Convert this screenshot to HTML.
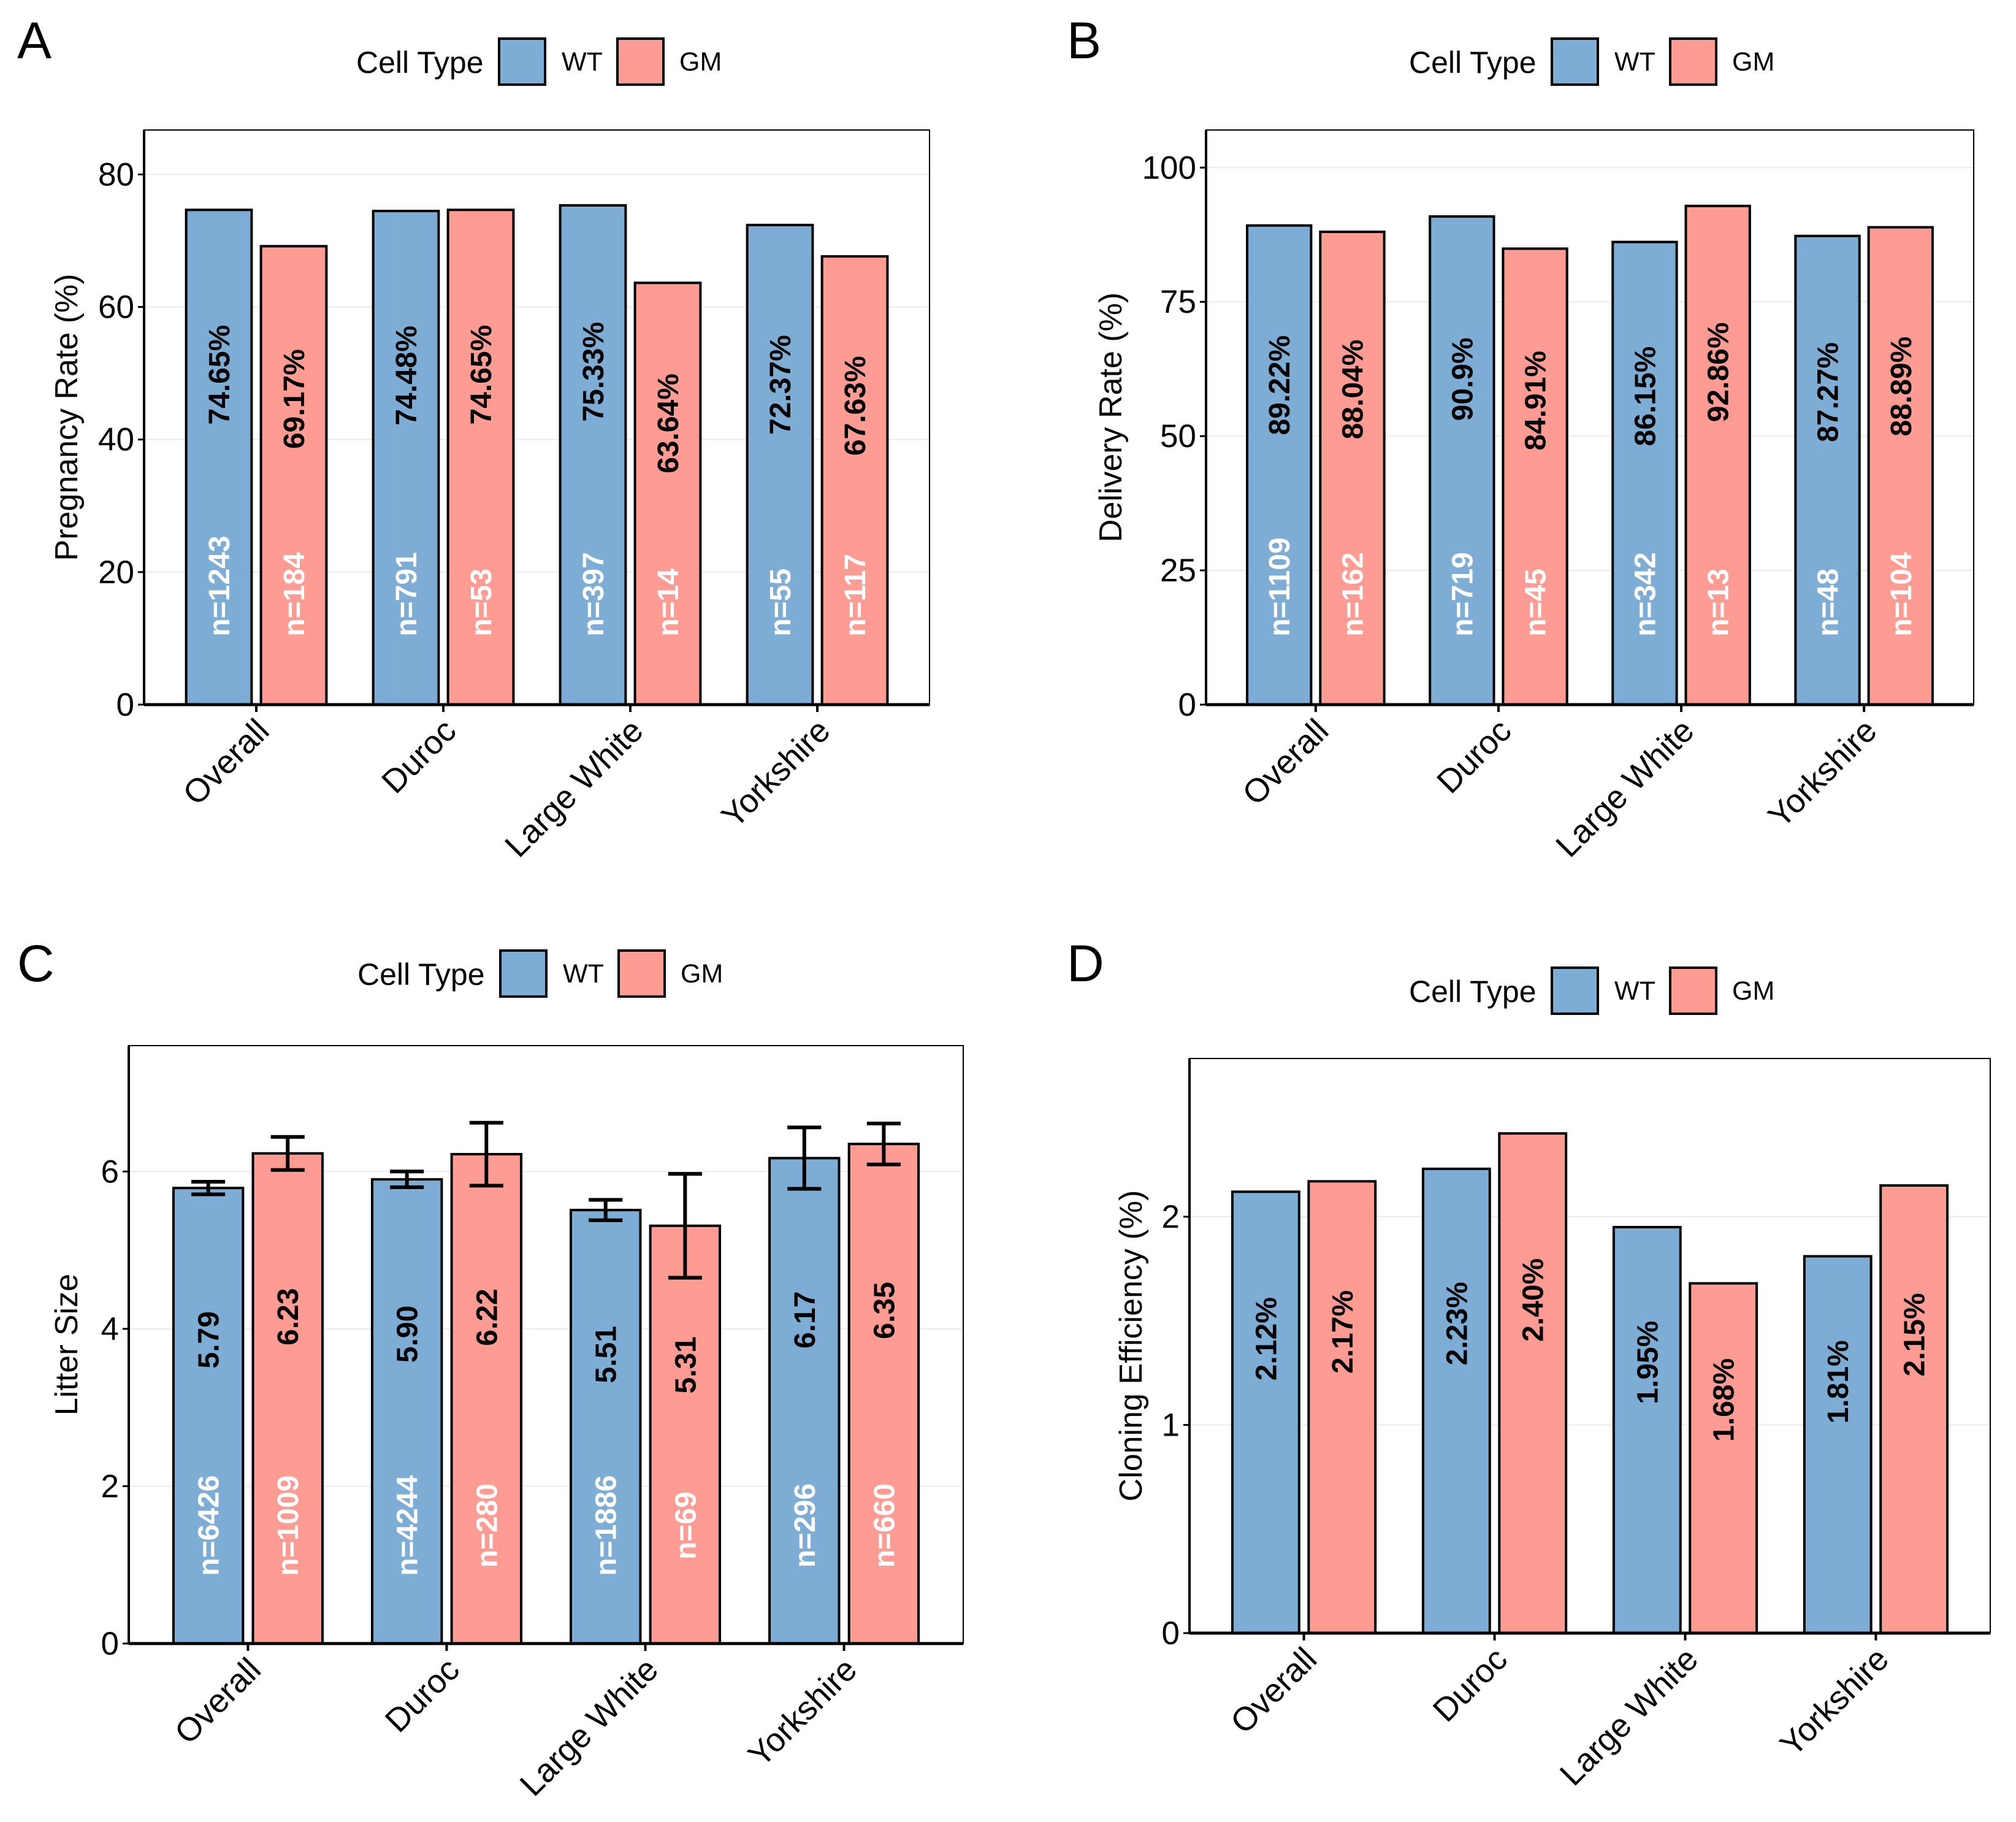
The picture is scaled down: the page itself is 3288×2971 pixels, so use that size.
<!DOCTYPE html>
<html><head><meta charset="utf-8"><style>
html,body{margin:0;padding:0;background:#fff;}
svg{display:block;font-family:"Liberation Sans",Arial,sans-serif;}
</style></head><body>
<svg id="fig" width="3288" height="2971" viewBox="0 0 3288 2971" xmlns="http://www.w3.org/2000/svg"></svg>
<script>
const categories = ["Overall","Duroc","Large White","Yorkshire"];
const pregWT = [74.65,74.48,75.33,72.37];
const pregGM = [69.17,74.65,63.64,67.63];
const pregNWT = [1243,791,397,55];
const pregNGM = [184,53,14,117];
const pregTicks = [0,20,40,60,80];
const delWT = [89.22,90.9,86.15,87.27];
const delGM = [88.04,84.91,92.86,88.89];
const delNWT = [1109,719,342,48];
const delNGM = [162,45,13,104];
const delTicks = [0,25,50,75,100];
const litWT = [5.79,5.90,5.51,6.17];
const litGM = [6.23,6.22,5.31,6.35];
const litErrWT = [0.08,0.10,0.13,0.39];
const litErrGM = [0.21,0.40,0.66,0.26];
const litNWT = [6426,4244,1886,296];
const litNGM = [1009,280,69,660];
const litTicks = [0,2,4,6];
const cloWT = [2.12,2.23,1.95,1.81];
const cloGM = [2.17,2.40,1.68,2.15];
const cloTicks = [0,1,2];

const NS="http://www.w3.org/2000/svg";
const svg=document.getElementById('fig');
const WTC="#7dadd5", GMC="#fe9b93";
function mk(tag,attrs,parent,text){const e=document.createElementNS(NS,tag);for(const k in attrs)e.setAttribute(k,attrs[k]);if(text!==undefined)e.textContent=text;(parent||svg).appendChild(e);return e;}

function panel(o){
  const g=mk('g',{});
  
  
  const x=v=>o.L+(v-0.4)*(o.R-o.L)/4.2;
  const y=v=>o.B-v*(o.B-o.T)/o.ymax;
  const lt=mk('text',{x:o.lx,y:o.ly,'font-size':84,fill:'#000'},g,o.letter);
  
  
  const lg=mk('g',{},g);
  
  
  const lt2=mk('text',{x:o.legX,y:o.legY+35,'font-size':50,fill:'#000'},lg,'Cell Type');
  
  
  const kw=mk('rect',{x:o.legX+233,y:o.legY-21,width:75,height:75,fill:WTC,stroke:'#000','stroke-width':4},lg);
  
  
  const tw=mk('text',{x:o.legX+335,y:o.legY+31,'font-size':43,fill:'#000'},lg,'WT');
  
  
  const kg=mk('rect',{x:o.legX+426,y:o.legY-21,width:75,height:75,fill:GMC,stroke:'#000','stroke-width':4},lg);
  
  
  const tg=mk('text',{x:o.legX+527,y:o.legY+31,'font-size':43,fill:'#000'},lg,'GM');
  
  
  o.ticks.forEach(t=>{
    const gl=mk('line',{x1:o.L,x2:o.R,y1:y(t),y2:y(t),stroke:'#ebebeb','stroke-width':2},g);
    
    
    mk('line',{x1:o.L-10,x2:o.L,y1:y(t),y2:y(t),stroke:'#000','stroke-width':3},g);
    const tl=mk('text',{x:o.L-16,y:y(t)+18,'font-size':53,'text-anchor':'end',fill:'#000'},g,String(t));
    
    
  });
  const fr=mk('rect',{x:o.L,y:o.T,width:o.R-o.L,height:o.B-o.T,fill:'none',stroke:'#000','stroke-width':2},g);
  
  
  const bw=0.35;
  categories.forEach((c,i)=>{
    [[o.wt,WTC,-0.2,o.ewt,o.nwt,'wt'],[o.gm,GMC,0.2,o.egm,o.ngm,'gm']].forEach(s=>{
      const v=s[0][i], cx=x(i+1+s[2]);
      const r=mk('rect',{x:cx-bw/2*(o.R-o.L)/4.2,y:y(v),width:bw*(o.R-o.L)/4.2,height:o.B-y(v),fill:s[1],stroke:'#000','stroke-width':4},g);
      
      
      if(s[3]){
        const e=s[3][i], cw=0.085*(o.R-o.L)/4.2;
        const eb=mk('path',{d:`M${cx-cw},${y(v+e)}H${cx+cw}M${cx},${y(v+e)}V${y(v-e)}M${cx-cw},${y(v-e)}H${cx+cw}`,stroke:'#000','stroke-width':6,fill:'none'},g);
        
        
      }
      const lab=o.fmt(v), ly=y(v*2/3);
      const vt=mk('text',{x:0,y:0,transform:`translate(${cx+17},${ly}) rotate(-90)`,'font-size':48,'font-weight':'bold','text-anchor':'middle',fill:'#000'},g,lab);
      
      
      if(s[4]){
        const anc=o.nCenter?'middle':'start';
        const nt=mk('text',{x:0,y:0,transform:`translate(${cx+17},${y(o.nPos)}) rotate(-90)`,'font-size':48,'font-weight':'bold','text-anchor':anc,fill:'#fff'},g,'n='+s[4][i]);
        
        
      }
    });
    const tx=x(i+1);
    mk('line',{x1:tx,x2:tx,y1:o.B,y2:o.B+12,stroke:'#000','stroke-width':4},g);
    const cl=mk('text',{x:0,y:0,transform:`translate(${tx+24},${o.B+46}) rotate(-45)`,'font-size':54,'text-anchor':'end',fill:'#000'},g,c);
    
    
  });
  mk('line',{x1:o.L,x2:o.L,y1:o.T,y2:o.B,stroke:'#000','stroke-width':4},g);
  mk('line',{x1:o.L,x2:o.R,y1:o.B,y2:o.B,stroke:'#000','stroke-width':5},g);
  const yt=mk('text',{x:0,y:0,transform:`translate(${o.ytx},${(o.T+o.B)/2}) rotate(-90)`,'font-size':52,'text-anchor':'middle',fill:'#000'},g,o.ytitle);
  
  
}
const pct=v=>v+'%';
panel({letter:'A',lx:28,ly:95,legX:581,legY:84,L:235,R:1516,T:212,B:1149,ymax:86.7,ticks:pregTicks,wt:pregWT,gm:pregGM,nwt:pregNWT,ngm:pregNGM,nPos:10.3,fmt:pct,ytitle:'Pregnancy Rate (%)',ytx:126});
panel({letter:'B',lx:1740,ly:95,legX:2298,legY:84,L:1967,R:3219,T:212,B:1149,ymax:107,ticks:delTicks,wt:delWT,gm:delGM,nwt:delNWT,ngm:delNGM,nPos:12.7,fmt:pct,ytitle:'Delivery Rate (%)',ytx:1829});
panel({letter:'C',lx:28,ly:1600,legX:583,legY:1571,L:210,R:1571,T:1705,B:2680,ymax:7.6,ticks:litTicks,wt:litWT,gm:litGM,ewt:litErrWT,egm:litErrGM,nwt:litNWT,ngm:litNGM,nPos:1.5,nCenter:true,fmt:v=>v.toFixed(2),ytitle:'Litter Size',ytx:126});
panel({letter:'D',lx:1740,ly:1600,legX:2298,legY:1599,L:1940,R:3246,T:1726,B:2663,ymax:2.76,ticks:cloTicks,wt:cloWT,gm:cloGM,fmt:v=>v.toFixed(2)+'%',ytitle:'Cloning Efficiency (%)',ytx:1862});
</script>
</body></html>
